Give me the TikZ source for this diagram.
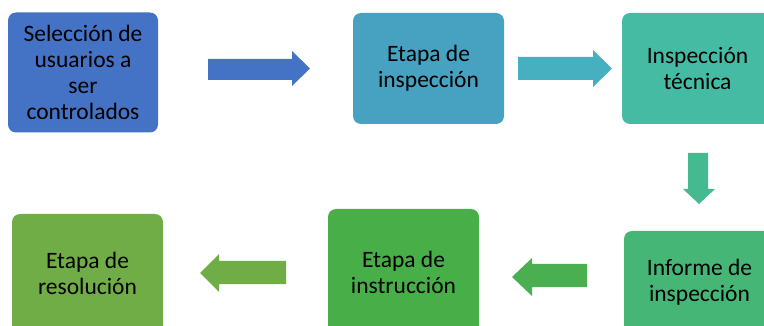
\documentclass[tikz,border=0pt]{standalone}
\usepackage{fontspec}
\setmainfont{Carlito}
\definecolor{cA}{HTML}{4472C4}
\definecolor{cB}{HTML}{46A2C0}
\definecolor{cBa}{HTML}{46AFC0}
\definecolor{cC}{HTML}{46BBA4}
\definecolor{cCa}{HTML}{45B98F}
\definecolor{cD}{HTML}{45B676}
\definecolor{cDa}{HTML}{4AAF50}
\definecolor{cE}{HTML}{48AF48}
\definecolor{cF}{HTML}{70AD47}
\begin{document}
\begin{tikzpicture}[x=1pt,y=-1pt,
  stage/.style={rounded corners=8pt, inner sep=0pt, minimum width=151pt, align=center,
    font=\fontsize{23.5}{26}\selectfont, text=black},
  blockarrow/.style={draw=none}]
\useasboundingbox (0,0) rectangle (764,326);
\begin{scope}
\clip (0,0) rectangle (764,326);
\node[stage, fill=cA, minimum width=150pt, minimum height=120pt] (s1) at (83,72.5) {Selección de\\usuarios a\\ser\\controlados};
\node[stage, fill=cB, minimum height=111pt] (s2) at (428.5,68.5) {Etapa de\\inspección};
\node[stage, fill=cC, minimum height=111pt] (s3) at (697.5,68.5) {Inspección\\técnica};
\node[stage, fill=cD, minimum height=103pt] (s4) at (699.5,282.5) {Informe de\\inspección};
\node[stage, fill=cE, minimum height=126pt] (s5) at (403.5,272) {Etapa de\\instrucción};
\node[stage, fill=cF, minimum height=119pt] (s6) at (87.5,273.5) {Etapa de\\resolución};
\end{scope}
% block arrows
\fill[cA] (208,59) -- (292,59) -- (292,51) -- (310,68.5) -- (292,86) -- (292,80) -- (208,80) -- cycle;
\fill[cBa] (518,57) -- (593,57) -- (593,50) -- (612,68.5) -- (593,87) -- (593,80) -- (518,80) -- cycle;
\fill[cCa] (688,153) -- (708,153) -- (708,189) -- (715,189) -- (699,204) -- (683,189) -- (688,189) -- cycle;
\fill[cDa] (587,264) -- (532,264) -- (532,258) -- (512,277) -- (532,296) -- (532,287) -- (587,287) -- cycle;
\fill[cF] (286,261) -- (219,261) -- (219,254) -- (200,273) -- (219,292) -- (219,284) -- (286,284) -- cycle;
\end{tikzpicture}
\end{document}
